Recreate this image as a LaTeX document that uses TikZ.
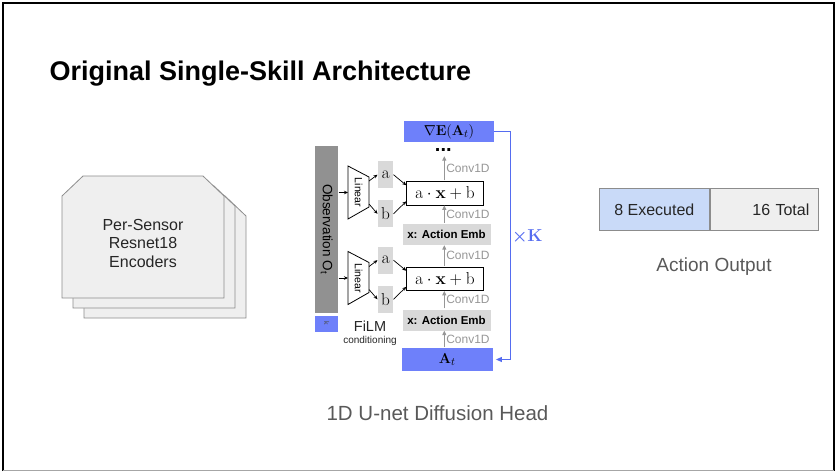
\documentclass[tikz,border=0pt]{standalone}
\usepackage[no-math]{fontspec}
\setmainfont{Liberation Sans}
\usepackage{amsmath}
\usepackage{amssymb}
\usetikzlibrary{arrows.meta}
\definecolor{headblue}{RGB}{110,128,250}
\definecolor{kloopblue}{RGB}{85,108,240}
\definecolor{execblue}{RGB}{201,218,248}
\definecolor{palegrey}{RGB}{239,239,239}
\definecolor{embgrey}{RGB}{217,217,217}
\definecolor{obsgrey}{RGB}{145,145,145}
\definecolor{convgrey}{RGB}{150,150,150}
\definecolor{edgegrey}{RGB}{140,140,140}
\newcommand{\fsize}[1]{\fontsize{#1}{#1}\selectfont}

\begin{document}
\begin{tikzpicture}[x=1pt, y=-1pt,
    arr/.style={-{Stealth[length=4pt,width=3.5pt]}, line width=0.7pt},
    conv/.style={-{Triangle[length=4.5pt,width=4pt]}, color=convgrey, line width=1pt},
    convlbl/.style={right, inner sep=1.5pt, text=convgrey, font=\fsize{12}},
    kloop/.style={-{Triangle[length=6pt,width=5pt]}, color=kloopblue, line width=1pt},
    headbox/.style={fill=headblue, inner sep=0pt},
    greybox/.style={fill=embgrey, inner sep=0pt},
    filmbox/.style={draw, fill=white, line width=0.8pt, inner sep=0pt, minimum width=76.7pt, minimum height=23.3pt, font=\fsize{17}},
    outbox/.style={draw=edgegrey, line width=0.8pt, minimum height=42.4pt, font=\fsize{16}, text=black!85}]
  \useasboundingbox (0,0) rectangle (837,474);
  %%% frame
  \draw[color=black, line width=1.4pt] (3,471) -- (3,3) -- (834,3) -- (834,471);
  \draw[color=black!35, line width=1pt] (3,470.5) -- (834,470.5);

  \node[anchor=base west, font=\bfseries\fsize{27}] (title) at (46,80) {Original Single-Skill Architecture};

  %%% stacked encoder cards
  \foreach \dx/\dy in {22/20, 11/10, 0/0}
    \draw[draw=edgegrey, fill=palegrey, line width=0.8pt, shift={(\dx,\dy)}]
      (62,196) -- (83,176) -- (203,176) -- (224,196) -- (224,298) -- (62,298) -- cycle;
  \node[align=center, font=\fontsize{16}{18.5}\selectfont, text=black!85] (enc) at (143,243) {Per-Sensor\\Resnet18\\Encoders};

  %%% observation bar and step embedding
  \node[rotate=-90, fill=obsgrey, inner sep=0pt, minimum width=166.7pt, minimum height=23.3pt, font=\fsize{13.5}, text=black] (obs) at (326.7,229.3) {Observation O\textsubscript{t}};
  \node[rotate=-90, fill=headblue, inner sep=0pt, minimum width=16pt, minimum height=23.3pt, font=\fsize{7}, text=black!70] (kemb) at (326.7,323.7) {k};

  %%% two FiLM blocks
  \foreach \i/\ty in {1/0, 2/85.5} {
    \begin{scope}[shift={(0,\ty)}]
      \draw[line width=0.8pt] (348,166) -- (369,177) -- (369,207) -- (348,219) -- cycle;
      \node[rotate=-90, font=\fsize{10.5}] (lin\i) at (358.5,192.5) {Linear};
      \coordinate (linin\i) at (348,192.5);
      \coordinate (lina\i) at (369,181);
      \coordinate (linb\i) at (369,204);
      \node[greybox, minimum width=15.6pt, minimum height=27.3pt, font=\fsize{18}] (a\i) at (385.5,174.7) {$\mathrm{a}$};
      \node[greybox, minimum width=15.6pt, minimum height=27.3pt, font=\fsize{18}] (b\i) at (385.5,213.8) {$\mathrm{b}$};
      \node[filmbox] (film\i) at (445,193.3) {$\mathrm{a}\cdot\mathbf{x}+\mathrm{b}$};
      \node[greybox, minimum width=88pt, minimum height=21pt, font=\bfseries\fsize{11.5}] (emb\i) at (446.5,234.5) {x: Action Emb};
    \end{scope}
    \draw[arr] (obs.north |- linin\i) -- (linin\i);
    \draw[arr] (lina\i) -- (a\i.west);
    \draw[arr] (linb\i) -- (b\i.west);
    \draw[arr] (a\i.east) -- ([yshift=-4pt]film\i.north west);
    \draw[arr] (b\i.east) -- ([yshift=4pt]film\i.south west);
  }

  \node[font=\fsize{14.5}, text=black!85] (filmlbl) at (370,326.7) {FiLM};
  \node[font=\fsize{10}, text=black!85] (condlbl) at (370,341) {conditioning};

  %%% diffusion column
  \node[headbox, minimum width=91pt, minimum height=22.4pt, font=\fsize{15}] (at) at (447.2,359.5) {$\mathbf{A}_t$};
  \node[headbox, minimum width=90pt, minimum height=21.6pt, font=\fsize{15}] (grad) at (449,131.5) {$\nabla\mathbf{E}(\mathbf{A}_t)$};
  \node[font=\bfseries\fsize{20}, inner ysep=4pt, inner xsep=1pt] (dots) at (443.3,150.5) {...};
  \coordinate (col) at (444.3,0);
  \foreach \lo/\hi in {at/emb2, emb2/film2, film2/emb1, emb1/film1, film1/dots}
    \draw[conv] ([yshift=1pt]\lo.north -| col) -- (\hi.south -| col) node[convlbl, midway] {Conv1D};

  \coordinate (kcol) at (510,0);
  \draw[kloop] (grad.east) -- (grad.east -| kcol) -- (at.east -| kcol) node[pos=.46, right, inner sep=1.5pt, text=kloopblue, font=\fsize{16}] {$\boldsymbol{\times}\mathbf{K}$} -- ([xshift=3pt]at.east);

  \node[font=\fsize{20.5}, text=black!65] (headlbl) at (437.5,412.7) {1D U-net Diffusion Head};

  %%% action output
  \node[outbox, fill=execblue, minimum width=110pt] (exec) at (654.3,209.5) {8 Executed};
  \node[outbox, fill=palegrey, text width=90pt, inner xsep=9.2pt, align=right, anchor=west] (total) at (exec.east) {16 Total};
  \node[font=\fsize{19}, text=black!65] (outlbl) at (714,267) {Action Output};
\end{tikzpicture}
\end{document}
